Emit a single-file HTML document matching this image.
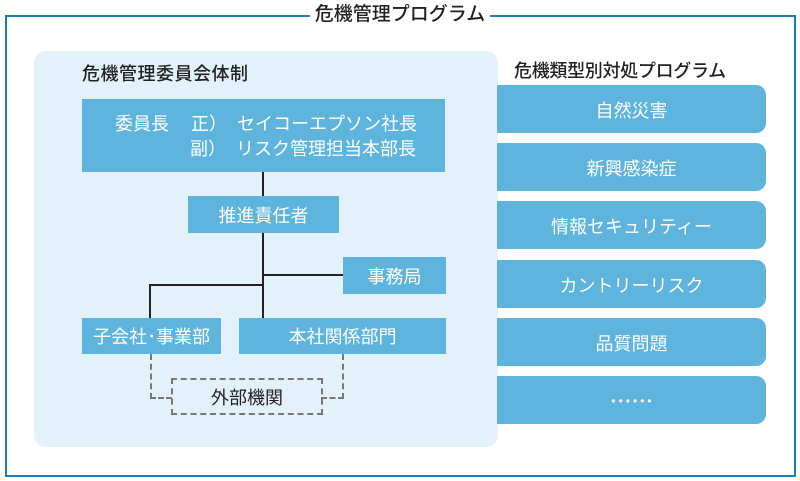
<!DOCTYPE html>
<html><head><meta charset="utf-8"><style>
body{margin:0;width:800px;height:481px;background:#fff;position:relative;overflow:hidden;font-family:"Liberation Sans","Noto Sans CJK JP",sans-serif}
div{position:absolute;box-sizing:border-box}
.b{background:#5fb4de;color:#fff;display:flex;align-items:center;justify-content:center;font-size:18px}
.r{left:497px;width:269px;height:48px;border-radius:0 10px 10px 0;padding-top:2px}
.l{background:#222}
.h{font-size:18px;color:#222;font-weight:500}
</style></head><body>
<div style="left:5px;top:15px;width:791px;height:462px;border:2px solid #1a7bbd"></div>
<div class="h" style="left:310px;top:1px;width:180px;height:28px;background:#fff;font-size:19px;text-align:center;line-height:28px">危機管理プログラム</div>
<div style="left:34px;top:51px;width:464px;height:396px;background:#e3f1fb;border-radius:12px"></div>
<div class="h" style="left:82px;top:60px;letter-spacing:0.5px">危機管理委員会体制</div>
<div class="h" style="left:514px;top:57px;letter-spacing:-0.3px">危機類型別対処プログラム</div>
<div class="b" style="left:82px;top:99px;width:363px;height:73px;display:block;line-height:25px;padding:13px 0 0 33px">
<div style="position:static;white-space:nowrap">委員長<span style="display:inline-block;width:22px"></span>正）<span style="display:inline-block;width:10px"></span>セイコーエプソン社長</div>
<div style="position:static;white-space:nowrap;padding-left:75px">副）<span style="display:inline-block;width:10px"></span>リスク管理担当本部長</div></div>
<div class="l" style="left:262px;top:172px;width:2px;height:146px"></div>
<div class="b" style="left:188px;top:196px;width:151px;height:37px">推進責任者</div>
<div class="l" style="left:263px;top:274px;width:80px;height:2px"></div>
<div class="l" style="left:149px;top:284px;width:114px;height:2px"></div>
<div class="l" style="left:149px;top:284px;width:2px;height:34px"></div>
<div class="b" style="left:343px;top:257px;width:103px;height:37px">事務局</div>
<div class="b" style="left:82px;top:318px;width:139px;height:36px">子会社･事業部</div>
<div class="b" style="left:239px;top:318px;width:207px;height:36px">本社関係部門</div>
<div style="left:150px;top:354px;width:22px;height:45px;border-left:2px dashed #777;border-bottom:2px dashed #777"></div>
<div style="left:321px;top:354px;width:23px;height:45px;border-right:2px dashed #777;border-bottom:2px dashed #777"></div>
<div style="left:171px;top:378px;width:152px;height:37px;border:2px dashed #777;display:flex;align-items:center;justify-content:center;font-size:18px;color:#222">外部機関</div>
<div class="b r" style="top:85px">自然災害</div>
<div class="b r" style="top:143px">新興感染症</div>
<div class="b r" style="top:201px">情報セキュリティー</div>
<div class="b r" style="top:260px">カントリーリスク</div>
<div class="b r" style="top:318px">品質問題</div>
<div class="b r" style="top:376px;font-size:12px;letter-spacing:3px;padding-left:3px">••••••</div>
</body></html>
